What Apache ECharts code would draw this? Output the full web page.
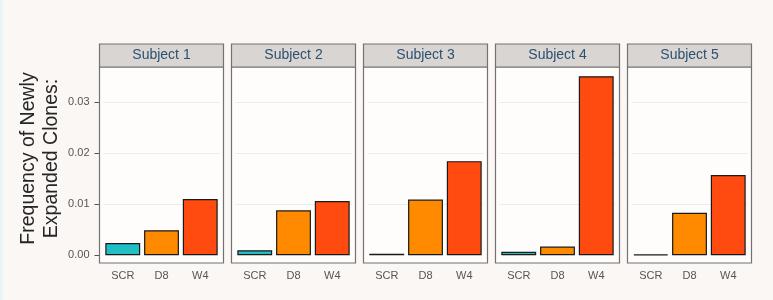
<!DOCTYPE html>
<html>
<head>
<meta charset="utf-8">
<script src="https://cdn.jsdelivr.net/npm/echarts@6/dist/echarts.min.js"></script>
<style>
  html, body { margin: 0; padding: 0; background: #fbf7f4; }
  #chart { width: 773px; height: 300px; }
</style>
</head>
<body>
<div id="chart"></div>
<script>
// 数据
const subjects = ['Subject 1', 'Subject 2', 'Subject 3', 'Subject 4', 'Subject 5'];
const timepoints = ['SCR', 'D8', 'W4'];
const scrValues = [0.0024, 0.0010, 0.0003, 0.0007, 0.0002];
const d8Values = [0.0049, 0.0088, 0.0109, 0.0017, 0.0083];
const w4Values = [0.0110, 0.0106, 0.0184, 0.0350, 0.0157];
const yTicks = [0, 0.01, 0.02, 0.03];

const colors = ['#20bfc4', '#ff8a00', '#ff4a10'];

// 面板布局
const panelLeft0 = 99.5;
const panelStep = 132;
const panelWidth = 124;
const stripTop = 44;
const plotTop = 67;
const plotBottom = 263;
const unit = panelWidth / 3.2; // ggplot 离散轴扩展 0.6

const chart = echarts.init(document.getElementById('chart'));

const grids = [];
const xAxes = [];
const yAxes = [];
const series = [];
const graphics = [];

// 左侧细边
graphics.push({
  type: 'rect',
  z: -20,
  shape: { x: 0, y: 0, width: 2.5, height: 300 },
  style: { fill: '#e6f5f8' },
});

subjects.forEach((name, i) => {
  const pl = panelLeft0 + i * panelStep;
  grids.push({
    left: pl + unit * 0.1,
    width: unit * 3,
    top: plotTop,
    height: plotBottom - plotTop,
  });
  xAxes.push({
    type: 'category',
    gridIndex: i,
    data: timepoints,
    axisLine: { show: false },
    axisTick: { alignWithLabel: true, length: 4, lineStyle: { color: '#555' } },
    axisLabel: { color: '#555', fontSize: 11, margin: 7, fontFamily: 'Liberation Sans' },
  });
  yAxes.push({
    type: 'value',
    gridIndex: i,
    min: -0.0015,
    max: 0.0368,
    offset: unit * 0.1,
    axisLine: { show: false },
    axisTick: { show: i === 0, customValues: yTicks, length: 5, lineStyle: { color: '#555' } },
    axisLabel: {
      show: i === 0,
      customValues: yTicks,
      color: '#555',
      fontSize: 11,
      margin: 10,
      fontFamily: 'Liberation Sans',
      formatter: (v) => v.toFixed(2),
    },
    splitLine: { show: false },
  });
  series.push({
    type: 'bar',
    xAxisIndex: i,
    yAxisIndex: i,
    barCategoryGap: '10%',
    data: [scrValues[i], d8Values[i], w4Values[i]],
    itemStyle: {
      color: (p) => colors[p.dataIndex],
      borderColor: '#1a1a1a',
      borderWidth: 1.2,
    },
  });

  // 面板背景
  graphics.push({
    type: 'rect',
    z: -10,
    shape: { x: pl, y: plotTop, width: panelWidth, height: plotBottom - plotTop },
    style: { fill: '#fefdfc' },
  });
  // 面板边框
  graphics.push({
    type: 'rect',
    z: 100,
    shape: { x: pl, y: plotTop, width: panelWidth, height: plotBottom - plotTop },
    style: { fill: 'none', stroke: '#75716e', lineWidth: 1.2 },
  });
  // 标题条
  graphics.push({
    type: 'rect',
    z: 100,
    shape: { x: pl, y: stripTop, width: panelWidth, height: plotTop - stripTop },
    style: { fill: '#d9d5d2', stroke: '#75716e', lineWidth: 1.2 },
  });
  graphics.push({
    type: 'text',
    z: 101,
    x: pl + panelWidth / 2,
    y: (stripTop + plotTop) / 2,
    style: {
      text: name,
      fill: '#2d5070',
      font: '14px "Liberation Sans"',
      textAlign: 'center',
      textVerticalAlign: 'middle',
    },
  });
});

// 网格线（仅主刻度）
const gridLines = yTicks.slice(1).map((v) => ({ yAxis: v }));
series.forEach((s) => {
  s.markLine = {
    silent: true,
    symbol: 'none',
    label: { show: false },
    lineStyle: { color: '#efebe8', width: 1, type: 'solid' },
    data: gridLines,
    z: 1,
  };
});

// Y轴标题
graphics.push({
  type: 'text',
  x: 40,
  y: 158.5,
  rotation: Math.PI / 2,
  style: {
    text: 'Frequency of Newly\nExpanded Clones:',
    fill: '#262626',
    font: '19.5px "Liberation Sans"',
    lineHeight: 23,
    textAlign: 'center',
    textVerticalAlign: 'middle',
  },
});

chart.setOption({
  backgroundColor: '#fbf7f4',
  animation: false,
  grid: grids,
  xAxis: xAxes,
  yAxis: yAxes,
  series: series,
  graphic: graphics,
});
</script>
</body>
</html>
